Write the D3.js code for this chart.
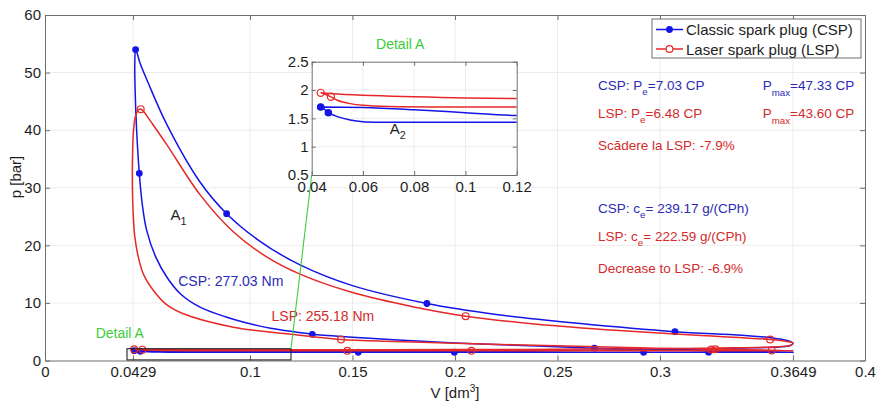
<!DOCTYPE html>
<html><head><meta charset="utf-8">
<script src="https://cdn.jsdelivr.net/npm/d3@7"></script>
<style>
body{margin:0;background:#fff;}
text{font-family:"Liberation Sans",Arial,sans-serif;}
</style>
</head><body>
<svg id="c" width="878" height="402"></svg>
<script>
// ---------- data ----------
const xTicks = [0, 0.0429, 0.1, 0.15, 0.2, 0.25, 0.3, 0.3649, 0.4];
const xTickLabels = ["0", "0.0429", "0.1", "0.15", "0.2", "0.25", "0.3", "0.3649", "0.4"];
const yTicks = [0, 10, 20, 30, 40, 50, 60];
const insetXTicks = [0.04, 0.06, 0.08, 0.1, 0.12];
const insetXTickLabels = ["0.04", "0.06", "0.08", "0.1", "0.12"];
const insetYTicks = [0.5, 1, 1.5, 2, 2.5];
const insetYTickLabels = ["0.5", "1", "1.5", "2", "2.5"];

// CSP cycle: intake, compression, expansion, exhaust
const cspV = [
  0.0435, 0.0450, 0.0465, 0.050, 0.055, 0.060, 0.080, 0.120, 0.200, 0.300, 0.3649,
  0.345, 0.320, 0.290, 0.268, 0.240, 0.200, 0.170, 0.150, 0.1304, 0.1228, 0.110, 0.100, 0.088, 0.0756, 0.066, 0.0594, 0.054, 0.0496, 0.0475, 0.0460, 0.0447, 0.0440, 0.0438,
  0.0442,
  0.0450, 0.0463, 0.050, 0.0594, 0.0756, 0.0886, 0.1049, 0.1244, 0.150, 0.1863, 0.220, 0.260, 0.3073, 0.340, 0.355, 0.3625, 0.3649,
  0.3635, 0.358, 0.345, 0.320, 0.290, 0.250, 0.200, 0.160, 0.120, 0.100, 0.080, 0.060, 0.0435
];
const cspP = [
  1.70, 1.66, 1.60, 1.53, 1.47, 1.44, 1.43, 1.43, 1.42, 1.42, 1.43,
  1.55, 1.72, 1.95, 2.14, 2.50, 3.05, 3.60, 4.05, 4.55, 4.92, 5.60, 6.38, 7.60, 9.27, 11.6, 14.5, 18.0, 22.6, 27.0, 32.5, 40.0, 46.5, 51.5,
  54.0,
  53.3, 51.7, 48.5, 41.0, 31.0, 25.5, 20.7, 16.6, 13.0, 9.9, 8.0, 6.45, 5.0, 4.4, 3.9, 3.45, 3.0,
  2.6, 2.35, 2.2, 2.0, 1.85, 1.72, 1.63, 1.58, 1.55, 1.60, 1.65, 1.69, 1.70
];
const cspMarkV = [0.0442, 0.0460, 0.0886, 0.1863, 0.3073, 0.1304, 0.268, 0.0435, 0.0465, 0.1528, 0.1997, 0.292, 0.3237];
const cspMarkP = [54.0, 32.5, 25.5, 9.9, 5.0, 4.55, 2.14, 1.70, 1.60, 1.43, 1.43, 1.43, 1.45];

// LSP cycle
const lspV = [
  0.0435, 0.0455, 0.0475, 0.050, 0.055, 0.060, 0.070, 0.120, 0.200, 0.300, 0.3649,
  0.3545, 0.327, 0.290, 0.250, 0.200, 0.170, 0.1444, 0.1179, 0.0919, 0.0675, 0.0590, 0.0528, 0.0480, 0.0455, 0.0438, 0.0431, 0.0427, 0.0426, 0.0428, 0.0432, 0.0442, 0.0455,
  0.0467,
  0.0480, 0.052, 0.0594, 0.0756, 0.0917, 0.1081, 0.1244, 0.150, 0.180, 0.2052, 0.240, 0.280, 0.320, 0.3537, 0.362, 0.3649,
  0.3635, 0.355, 0.340, 0.300, 0.250, 0.200, 0.120, 0.080, 0.050, 0.0435
];
const lspP = [
  1.95, 1.92, 1.88, 1.82, 1.76, 1.73, 1.71, 1.70, 1.70, 1.70, 1.70,
  1.78, 1.95, 2.20, 2.55, 3.00, 3.30, 3.65, 4.64, 5.79, 8.12, 9.80, 12.2, 15.0, 18.0, 21.5, 24.9, 29.0, 33.0, 37.0, 40.0, 42.5, 43.5,
  43.65,
  43.3, 41.3, 37.5, 28.8, 22.4, 18.0, 15.0, 11.8, 9.3, 7.7, 6.3, 5.2, 4.35, 3.65, 3.3, 3.0,
  2.6, 2.35, 2.2, 2.05, 1.95, 1.90, 1.85, 1.88, 1.93, 1.95
];
const lspMarkV = [0.0467, 0.1444, 0.2052, 0.3537, 0.327, 0.325, 0.3545, 0.1475, 0.208, 0.0435, 0.0475];
const lspMarkP = [43.65, 3.65, 7.7, 3.65, 1.95, 1.90, 1.75, 1.70, 1.70, 1.95, 1.88];

const seriesNames = ["Classic spark plug (CSP)", "Laser spark plug (LSP)"];
const detailV = [0.04, 0.12];
const detailP = [0.1, 2.05];

// ---------- drawing ----------
const BLUE = "#1414e6", RED = "#e62828", BLUE_T = "#2a2ab4", RED_T = "#d42a2a", GREEN = "#3ccc3c";
const AX = "#6e6e6e", GRID = "#ececec";
const svg = d3.select("#c");
const M = {l: 45, r: 865, t: 15, b: 360.5};
const x = d3.scaleLinear().domain([0, 0.4]).range([M.l, M.r]);
const y = d3.scaleLinear().domain([0, 60]).range([M.b, M.t]);

svg.append("defs").append("clipPath").attr("id", "mainClip")
  .append("rect").attr("x", M.l).attr("y", M.t).attr("width", M.r - M.l).attr("height", M.b - M.t);

// grid
const g = svg.append("g");
g.selectAll(".gx").data(xTicks.slice(1, -1)).join("line")
  .attr("x1", d => x(d)).attr("x2", d => x(d)).attr("y1", M.t).attr("y2", M.b)
  .attr("stroke", GRID).attr("stroke-width", 1);
g.selectAll(".gy").data(yTicks.slice(1, -1)).join("line")
  .attr("y1", d => y(d)).attr("y2", d => y(d)).attr("x1", M.l).attr("x2", M.r)
  .attr("stroke", GRID).attr("stroke-width", 1);

function styleAxis(sel) {
  sel.select(".domain").attr("stroke", AX);
  sel.selectAll(".tick line").attr("stroke", AX);
  sel.selectAll(".tick text").attr("fill", "#1e1e1e").style("font-size", "15px")
    .style("font-family", '"Liberation Sans",Arial,sans-serif');
}
// axes
svg.append("g").attr("transform", `translate(0,${M.b})`)
  .call(d3.axisBottom(x).tickValues(xTicks).tickFormat((d, i) => xTickLabels[i]).tickSizeInner(-5).tickSizeOuter(0).tickPadding(6))
  .call(styleAxis);
svg.append("g").attr("transform", `translate(0,${M.t})`)
  .call(d3.axisTop(x).tickValues(xTicks).tickFormat("").tickSizeInner(-5).tickSizeOuter(0))
  .call(styleAxis);
svg.append("g").attr("transform", `translate(${M.l},0)`)
  .call(d3.axisLeft(y).tickValues(yTicks).tickFormat(d3.format("d")).tickSizeInner(-5).tickSizeOuter(0).tickPadding(4))
  .call(styleAxis);
svg.append("g").attr("transform", `translate(${M.r},0)`)
  .call(d3.axisRight(y).tickValues(yTicks).tickFormat("").tickSizeInner(-5).tickSizeOuter(0))
  .call(styleAxis);

// axis titles
svg.append("text").attr("transform", `translate(21,177) rotate(-90)`)
  .attr("text-anchor", "middle").style("font-size", "15px").attr("fill", "#1e1e1e").text("p [bar]");
const xt = svg.append("text").attr("x", 455).attr("y", 398)
  .attr("text-anchor", "middle").style("font-size", "15px").attr("fill", "#1e1e1e");
xt.append("tspan").text("V [dm");
xt.append("tspan").attr("dy", -6).style("font-size", "10px").text("3");
xt.append("tspan").attr("dy", 6).text("]");

// cycles
const toPts = (V, P) => V.map((v, i) => [v, P[i]]);
function drawSeries(parent, xs, ys, V, P, MV, MP, color, filled, clip, r) {
  const line = d3.line().x(d => xs(d[0])).y(d => ys(d[1])).curve(d3.curveCatmullRom.alpha(0.5));
  const gg = parent.append("g").attr("clip-path", `url(#${clip})`);
  gg.append("path").attr("d", line(toPts(V, P))).attr("fill", "none")
    .attr("stroke", color).attr("stroke-width", 1.5);
  gg.selectAll("circle").data(toPts(MV, MP)).join("circle")
    .attr("cx", d => xs(d[0])).attr("cy", d => ys(d[1])).attr("r", r)
    .attr("fill", filled ? color : "none").attr("stroke", color).attr("stroke-width", 1.2);
}
drawSeries(svg, x, y, cspV, cspP, cspMarkV, cspMarkP, BLUE, true, "mainClip", 2.8);
drawSeries(svg, x, y, lspV, lspP, lspMarkV, lspMarkP, RED, false, "mainClip", 3.4);

// detail rectangle
svg.append("rect").attr("x", x(detailV[0])).attr("y", y(detailP[1]))
  .attr("width", x(detailV[1]) - x(detailV[0])).attr("height", y(detailP[0]) - y(detailP[1]))
  .attr("fill", "none").attr("stroke", "#222").attr("stroke-width", 1.1);
svg.append("text").attr("x", x(0.0365)).attr("y", y(3.9)).attr("text-anchor", "middle")
  .style("font-size", "14px").attr("fill", GREEN).text("Detail A");

// annotations main
function subText(parent, px, py, parts, color, size) {
  const t = parent.append("text").attr("x", px).attr("y", py).attr("fill", color).style("font-size", size + "px");
  parts.forEach(p => {
    if (p.sub) {
      t.append("tspan").attr("dy", p.dy || 5).style("font-size", (size * 0.72) + "px").text(p.t);
    } else {
      t.append("tspan").attr("dy", p.back || 0).text(p.t);
    }
  });
  return t;
}
subText(svg, x(0.0612), y(24.4), [{t: "A"}, {t: "1", sub: true, dy: 5}], "#1e1e1e", 15);
svg.append("text").attr("x", x(0.065)).attr("y", y(12.9)).style("font-size", "14px").attr("fill", BLUE_T).text("CSP: 277.03 Nm");
svg.append("text").attr("x", x(0.1105)).attr("y", y(6.9)).style("font-size", "14px").attr("fill", RED_T).text("LSP: 255.18 Nm");

const fs = 13.5;
subText(svg, x(0.2698), y(47.0), [{t: "CSP: P"}, {t: "e", sub: true, dy: 5}, {t: "=7.03 CP", back: -5}], BLUE_T, fs);
subText(svg, x(0.3501), y(47.0), [{t: "P"}, {t: "max", sub: true, dy: 6}, {t: "=47.33 CP", back: -6}], BLUE_T, fs);
subText(svg, x(0.2698), y(42.05), [{t: "LSP: P"}, {t: "e", sub: true, dy: 5}, {t: "=6.48 CP", back: -5}], RED_T, fs);
subText(svg, x(0.3501), y(42.05), [{t: "P"}, {t: "max", sub: true, dy: 6}, {t: "=43.60 CP", back: -6}], RED_T, fs);
svg.append("text").attr("x", x(0.2698)).attr("y", y(36.5)).style("font-size", fs + "px").attr("fill", RED_T).text("Scădere la LSP: -7.9%");
subText(svg, x(0.2698), y(25.7), [{t: "CSP: c"}, {t: "e", sub: true, dy: 5}, {t: "= 239.17 g/(CPh)", back: -5}], BLUE_T, fs);
subText(svg, x(0.2698), y(20.75), [{t: "LSP: c"}, {t: "e", sub: true, dy: 5}, {t: "= 222.59 g/(CPh)", back: -5}], RED_T, fs);
svg.append("text").attr("x", x(0.2698)).attr("y", y(15.25)).style("font-size", fs + "px").attr("fill", RED_T).text("Decrease to LSP: -6.9%");

// ---------- inset ----------
const I = {l: 311.7, r: 516.7, t: 61.7, b: 175};
const xi = d3.scaleLinear().domain([0.04, 0.12]).range([I.l, I.r]);
const yi = d3.scaleLinear().domain([0.5, 2.5]).range([I.b, I.t]);
svg.select("defs").append("clipPath").attr("id", "insetClip")
  .append("rect").attr("x", I.l).attr("y", I.t).attr("width", I.r - I.l).attr("height", I.b - I.t);

// green connector from detail box corner to inset corner
svg.append("line").attr("x1", x(detailV[1])).attr("y1", y(detailP[1]))
  .attr("x2", xi(0.04)).attr("y2", yi(0.5)).attr("stroke", GREEN).attr("stroke-width", 1.1);

const ins = svg.append("g");
ins.append("rect").attr("x", I.l).attr("y", I.t).attr("width", I.r - I.l).attr("height", I.b - I.t).attr("fill", "#fff");
ins.selectAll(".igx").data(insetXTicks.slice(1, -1)).join("line")
  .attr("x1", d => xi(d)).attr("x2", d => xi(d)).attr("y1", I.t).attr("y2", I.b).attr("stroke", GRID);
ins.selectAll(".igy").data(insetYTicks.slice(1, -1)).join("line")
  .attr("y1", d => yi(d)).attr("y2", d => yi(d)).attr("x1", I.l).attr("x2", I.r).attr("stroke", GRID);
drawSeries(ins, xi, yi, cspV, cspP, cspMarkV, cspMarkP, BLUE, true, "insetClip", 3.2);
drawSeries(ins, xi, yi, lspV, lspP, lspMarkV, lspMarkP, RED, false, "insetClip", 3.6);
ins.append("g").attr("transform", `translate(0,${I.b})`)
  .call(d3.axisBottom(xi).tickValues(insetXTicks).tickFormat((d, i) => insetXTickLabels[i]).tickSizeInner(-4).tickSizeOuter(0).tickPadding(6))
  .call(styleAxis);
ins.append("g").attr("transform", `translate(0,${I.t})`)
  .call(d3.axisTop(xi).tickValues(insetXTicks).tickFormat("").tickSizeInner(-4).tickSizeOuter(0))
  .call(styleAxis);
ins.append("g").attr("transform", `translate(${I.l},0)`)
  .call(d3.axisLeft(yi).tickValues(insetYTicks).tickFormat((d, i) => insetYTickLabels[i]).tickSizeInner(-4).tickSizeOuter(0).tickPadding(3))
  .call(styleAxis);
ins.append("g").attr("transform", `translate(${I.r},0)`)
  .call(d3.axisRight(yi).tickValues(insetYTicks).tickFormat("").tickSizeInner(-4).tickSizeOuter(0))
  .call(styleAxis);
ins.append("text").attr("x", (I.l + I.r) / 2 - 14).attr("y", I.t - 13).attr("text-anchor", "middle")
  .style("font-size", "14px").attr("fill", GREEN).text("Detail A");
subText(ins, xi(0.0705), yi(1.23), [{t: "A"}, {t: "2", sub: true, dy: 5}], "#1e1e1e", 15);

// ---------- legend ----------
const L = {x: 652, y: 19, w: 209, h: 39};
const lg = svg.append("g");
lg.append("rect").attr("x", L.x).attr("y", L.y).attr("width", L.w).attr("height", L.h)
  .attr("fill", "#fff").attr("stroke", AX).attr("stroke-width", 1);
const legCols = [BLUE, RED];
seriesNames.forEach((name, i) => {
  const cy = L.y + 10.5 + i * 19.5;
  lg.append("line").attr("x1", L.x + 4).attr("x2", L.x + 31).attr("y1", cy).attr("y2", cy)
    .attr("stroke", legCols[i]).attr("stroke-width", 1.5);
  lg.append("circle").attr("cx", L.x + 17.5).attr("cy", cy).attr("r", i === 0 ? 2.8 : 3.4)
    .attr("fill", i === 0 ? legCols[i] : "#fff").attr("stroke", legCols[i]).attr("stroke-width", 1.2);
  lg.append("text").attr("x", L.x + 34).attr("y", cy + 5.5).style("font-size", "15px")
    .attr("fill", "#1e1e1e").text(name);
});
</script>
</body></html>
